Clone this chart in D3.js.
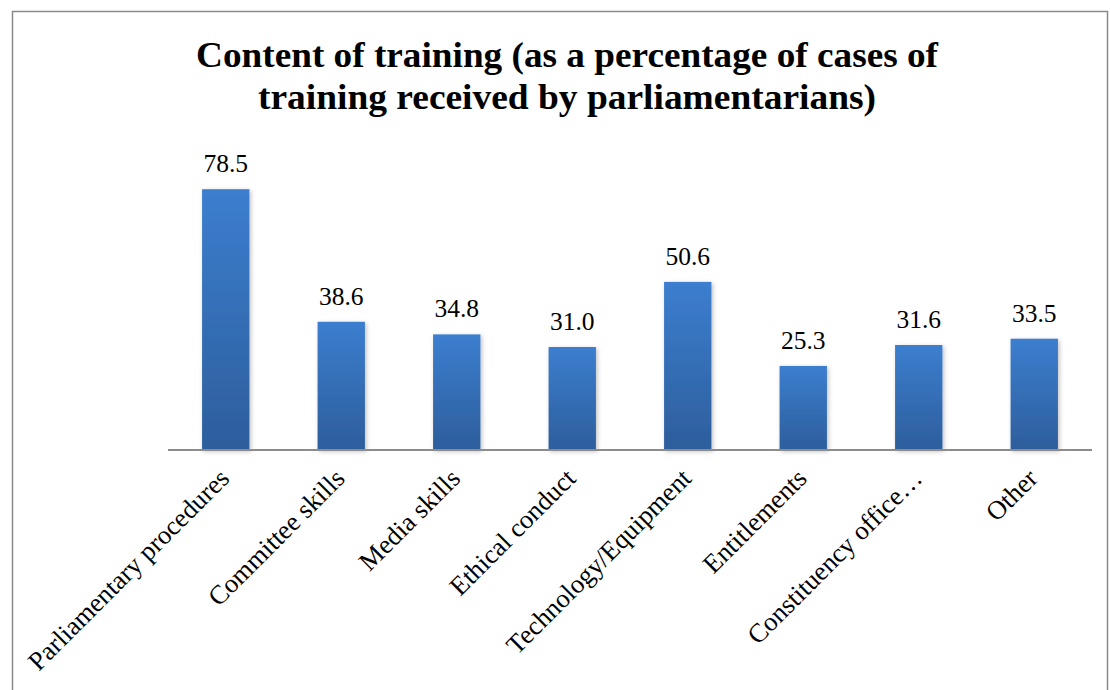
<!DOCTYPE html>
<html>
  <head>
    <title>Content of training</title>
    <script src="https://d3js.org/d3.v7.min.js"></script>
    <style>
      body { margin: 0; background: #fff; }
      svg text { font-family: "Liberation Serif", "DejaVu Serif", serif; fill: #000; }
    </style>
  </head>
  <body>
    <svg width="1110" height="690"></svg>
    <script>
      // Chart data
      const categories = [
        "Parliamentary procedures", "Committee skills", "Media skills", "Ethical conduct",
        "Technology/Equipment", "Entitlements", "Constituency office\u2026", "Other"
      ];
      const values = [78.5, 38.6, 34.8, 31.0, 50.6, 25.3, 31.6, 33.5];
      const titleLines = [
        "Content of training (as a percentage of cases of",
        "training received by parliamentarians)"
      ];

      const width = 1110;
      const height = 690;
      const margin = { top: 151, right: 18, bottom: 240, left: 168 };
      const serif = "'Liberation Serif', 'DejaVu Serif', serif";

      const svg = d3.select("svg").attr("viewBox", [0, 0, width, height]);

      // Gradient and shadow for bars
      const defs = svg.append("defs");
      const grad = defs.append("linearGradient")
        .attr("id", "barGrad")
        .attr("x1", 0).attr("y1", 0).attr("x2", 0).attr("y2", 1);
      grad.append("stop").attr("offset", "0%").attr("stop-color", "#3c7ecf");
      grad.append("stop").attr("offset", "100%").attr("stop-color", "#2d5e9c");

      const shadow = defs.append("filter").attr("id", "shadow")
        .attr("x", "-20%").attr("y", "-5%").attr("width", "140%").attr("height", "110%");
      shadow.append("feDropShadow")
        .attr("dx", 1.5).attr("dy", 1.5).attr("stdDeviation", 2)
        .attr("flood-color", "#000").attr("flood-opacity", 0.25);

      // Frame around the chart
      svg.append("rect")
        .attr("x", 12.5).attr("y", 11.5)
        .attr("width", 1095).attr("height", 700)
        .attr("fill", "none")
        .attr("stroke", "#8a8a8a")
        .attr("stroke-width", 1.5);

      // Scales
      const x = d3.scaleBand()
        .domain(categories)
        .range([margin.left, width - margin.right])
        .paddingInner(0.59)
        .paddingOuter(0.295);

      const y = d3.scaleLinear()
        .domain([0, 90])
        .range([height - margin.bottom, margin.top]);

      // Title
      svg.append("g")
        .selectAll("text")
        .data(titleLines)
        .join("text")
        .attr("x", 567)
        .attr("y", (d, i) => 67 + i * 42)
        .attr("text-anchor", "middle")
        .attr("font-family", serif)
        .attr("font-size", 36)
        .attr("font-weight", "bold")
        .attr("textLength", (d, i) => i === 0 ? 742 : 618)
        .attr("lengthAdjust", "spacingAndGlyphs")
        .text(d => d);

      // Bars
      svg.append("g")
        .selectAll("rect")
        .data(values)
        .join("rect")
        .attr("x", (d, i) => x(categories[i]))
        .attr("y", d => y(d))
        .attr("width", x.bandwidth())
        .attr("height", d => y(0) - y(d))
        .attr("fill", "url(#barGrad)")
        .attr("filter", "url(#shadow)");

      // Value labels
      svg.append("g")
        .selectAll("text")
        .data(values)
        .join("text")
        .attr("x", (d, i) => x(categories[i]) + x.bandwidth() / 2)
        .attr("y", d => y(d) - 17)
        .attr("text-anchor", "middle")
        .attr("font-family", serif)
        .attr("font-size", 25.5)
        .text(d => d.toFixed(1));

      // X axis
      const xAxis = d3.axisBottom(x).tickSize(0).tickPadding(0);
      const gx = svg.append("g")
        .attr("transform", `translate(0,${y(0)})`)
        .attr("font-family", serif)
        .call(xAxis);
      gx.select(".domain")
        .attr("stroke", "#8c8c8c")
        .attr("stroke-width", 2)
        .attr("d", `M${margin.left},0H${width - margin.right}`);
      gx.selectAll(".tick text")
        .attr("font-family", serif)
        .attr("font-size", 26.5)
        .attr("fill", "#000")
        .attr("text-anchor", "end")
        .attr("dy", 0)
        .attr("y", 0)
        .attr("transform", "translate(5,30) rotate(-45)");
    </script>
  </body>
</html>
